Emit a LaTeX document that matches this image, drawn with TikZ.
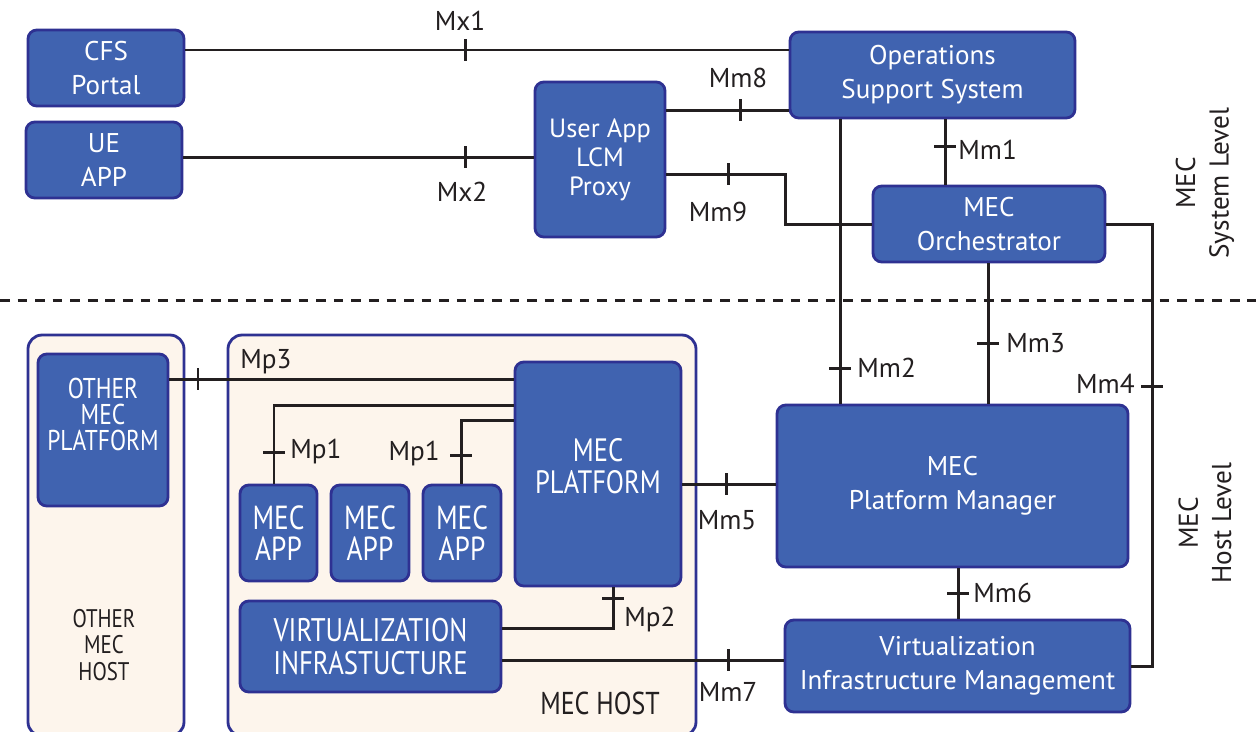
\documentclass[tikz,border=0pt]{standalone}
\usepackage{fontspec}
\setmainfont{PT Sans}
\newfontfamily\narrowfont[FakeStretch=0.82]{PT Sans}
\definecolor{boxfill}{RGB}{64,99,176}
\definecolor{boxline}{RGB}{46,49,146}
\definecolor{cream}{RGB}{253,245,236}
\definecolor{wire}{RGB}{35,31,32}
\newcommand\vtick[1]{\draw[conn] (#1) ++(0,-11) -- ++(0,22);}
\newcommand\htick[1]{\draw[conn] (#1) ++(-11,0) -- ++(22,0);}
\begin{document}
\begin{tikzpicture}[x=0.02cm,y=-0.02cm,
  box/.style={draw=boxline,fill=boxfill,line width=1.6pt,rounded corners=5pt,text=white,align=center,inner sep=0pt,font=\fontsize{15.4}{19.5}\selectfont},
  sz/.style 2 args={minimum width=#1*0.02cm,minimum height=#2*0.02cm},
  panel/.style={draw=boxline,fill=cream,line width=1.6pt,rounded corners=8pt},
  conn/.style={draw=wire,line width=1.7pt},
  lbl/.style={text=wire,font=\fontsize{15.5}{18}\selectfont,inner sep=0pt},
  wtxt/.style={text=white,align=center,inner sep=0pt}]
\useasboundingbox (0,0) rectangle (1256,731);
\fill[white] (0,0) rectangle (1256,731);

% panels
\path[panel] (28,335) rectangle (184,736);
\path[panel] (228,335) rectangle (696,736);

% system level boxes
\node[box,sz={156}{76}] (cfs) at (106,68) {CFS\\Portal};
\node[box,sz={156}{76}] (ue) at (104,160) {UE\\APP};
\node[box,sz={130}{155},font=\fontsize{15}{16.5}\selectfont] (proxy) at (600,159.5) {User App\\LCM\\Proxy};
\node[box,sz={285}{86}] (oss) at (932.5,75) {Operations\\Support System};
\node[box,sz={232}{76}] (orch) at (989,224) {MEC\\Orchestrator};

% host level boxes
\node[box,sz={130}{152}] (omp) at (103,430) {};
\node[wtxt,font=\narrowfont\fontsize{16.3}{14.8}\selectfont] (omptxt) at (103,414) {OTHER\\MEC\\PLATFORM};
\node[box,sz={166}{224}] (mp) at (598,474) {};
\node[wtxt,font=\narrowfont\fontsize{18.4}{18.2}\selectfont] (mptxt) at (598,466) {MEC\\PLATFORM};
\node[box,sz={77}{96},font=\narrowfont\fontsize{19}{18}\selectfont] (app1) at (278.5,533) {MEC\\APP};
\node[box,sz={78}{96},font=\narrowfont\fontsize{19}{18}\selectfont] (app2) at (370,533) {MEC\\APP};
\node[box,sz={78}{96},font=\narrowfont\fontsize{19}{18}\selectfont] (app3) at (462,533) {MEC\\APP};
\node[box,sz={261}{91},font=\narrowfont\fontsize{18.6}{18.7}\selectfont] (vi) at (370.5,646.5) {VIRTUALIZATION\\INFRASTUCTURE};
\node[box,sz={351}{162}] (pm) at (952.5,486) {MEC\\Platform Manager};
\node[box,sz={345}{92}] (vim) at (957.5,666) {Virtualization\\Infrastructure Management};

\node[text=wire,align=center,inner sep=0pt,font=\narrowfont\fontsize{14.5}{15}\selectfont] (omh) at (104,645) {OTHER\\MEC\\HOST};
\node[text=wire,inner sep=0pt,font=\narrowfont\fontsize{18}{18}\selectfont] (mh) at (600,703) {MEC HOST};

% level divider
\draw[wire,line width=1.7pt,dash pattern=on 5.5pt off 4.5pt] (0,300) -- (1256,300);

% level labels
\node[rotate=90,align=center,text=wire,inner sep=0pt,font=\fontsize{15.5}{19}\selectfont] (sysl) at (1205,183) {MEC\\System Level};
\node[rotate=90,align=center,text=wire,inner sep=0pt,font=\fontsize{15.5}{19}\selectfont] (hostl) at (1205,523) {MEC\\Host Level};

% reference points
\coordinate (mx1) at (465,50);
\coordinate (mx2) at (465,157);
\coordinate (mm8) at (740,110);
\coordinate (mm9) at (728,174);
\coordinate (b9) at (785,0);
\coordinate (mm1) at (945,146);
\coordinate (mm2) at (840,368);
\coordinate (mm3) at (988,343);
\coordinate (mm4) at (1152,386);
\coordinate (mm5) at (726,484);
\coordinate (mm6) at (958,593);
\coordinate (mm7) at (728,660);
\coordinate (mp3) at (198,379);
\coordinate (p1a) at (274,405);
\coordinate (t1a) at (274,452);
\coordinate (p1b) at (461,420);
\coordinate (t1b) at (461,455);
\coordinate (p2) at (613,628);
\coordinate (t2) at (613,598);

% connectors
\draw[conn] (cfs.east |- mx1) -- (oss.west |- mx1); \vtick{mx1}
\draw[conn] (ue.east |- mx2) -- (proxy.west |- mx2); \vtick{mx2}
\draw[conn] (proxy.east |- mm8) -- (oss.west |- mm8); \vtick{mm8}
\draw[conn] (proxy.east |- mm9) -| (b9 |- orch.west) -- (orch.west); \vtick{mm9}
\draw[conn] (oss.south -| mm1) -- (orch.north -| mm1); \htick{mm1}
\draw[conn] (oss.south -| mm2) -- (pm.north -| mm2); \htick{mm2}
\draw[conn] (orch.south -| mm3) -- (pm.north -| mm3); \htick{mm3}
\draw[conn] (orch.east) -| (mm4) |- (vim.east); \htick{mm4}
\draw[conn] (mp.east |- mm5) -- (pm.west |- mm5); \vtick{mm5}
\draw[conn] (pm.south -| mm6) -- (vim.north -| mm6); \htick{mm6}
\draw[conn] (vi.east |- mm7) -- (vim.west |- mm7); \vtick{mm7}
\draw[conn] (omp.east |- mp3) -- (mp.west |- mp3); \vtick{mp3}
\draw[conn] (mp.west |- p1a) -| (app1.north -| p1a); \htick{t1a}
\draw[conn] (mp.west |- p1b) -| (app3.north -| p1b); \htick{t1b}
\draw[conn] (vi.east |- p2) -| (mp.south -| p2); \htick{t2}

% labels
\node[lbl] (lmx1) at (460,21) {Mx1};
\node[lbl] (lmx2) at (462,192) {Mx2};
\node[lbl] (lmm8) at (738,78) {Mm8};
\node[lbl] (lmm9) at (718,212) {Mm9};
\node[lbl,anchor=west] (lmm1) at (958,150) {Mm1};
\node[lbl,anchor=west] (lmm2) at (857,368) {Mm2};
\node[lbl,anchor=west] (lmm3) at (1006,343) {Mm3};
\node[lbl,anchor=east] (lmm4) at (1135,384) {Mm4};
\node[lbl] (lmm5) at (727,520) {Mm5};
\node[lbl,anchor=west] (lmm6) at (973,593) {Mm6};
\node[lbl] (lmm7) at (728,692) {Mm7};
\node[lbl,anchor=west] (lmp3) at (240,362) {Mp3};
\node[lbl,anchor=west] (lmp1a) at (290,452) {Mp1};
\node[lbl,anchor=east] (lmp1b) at (440,454) {Mp1};
\node[lbl,anchor=west] (lmp2) at (624,620) {Mp2};
\end{tikzpicture}
\end{document}
